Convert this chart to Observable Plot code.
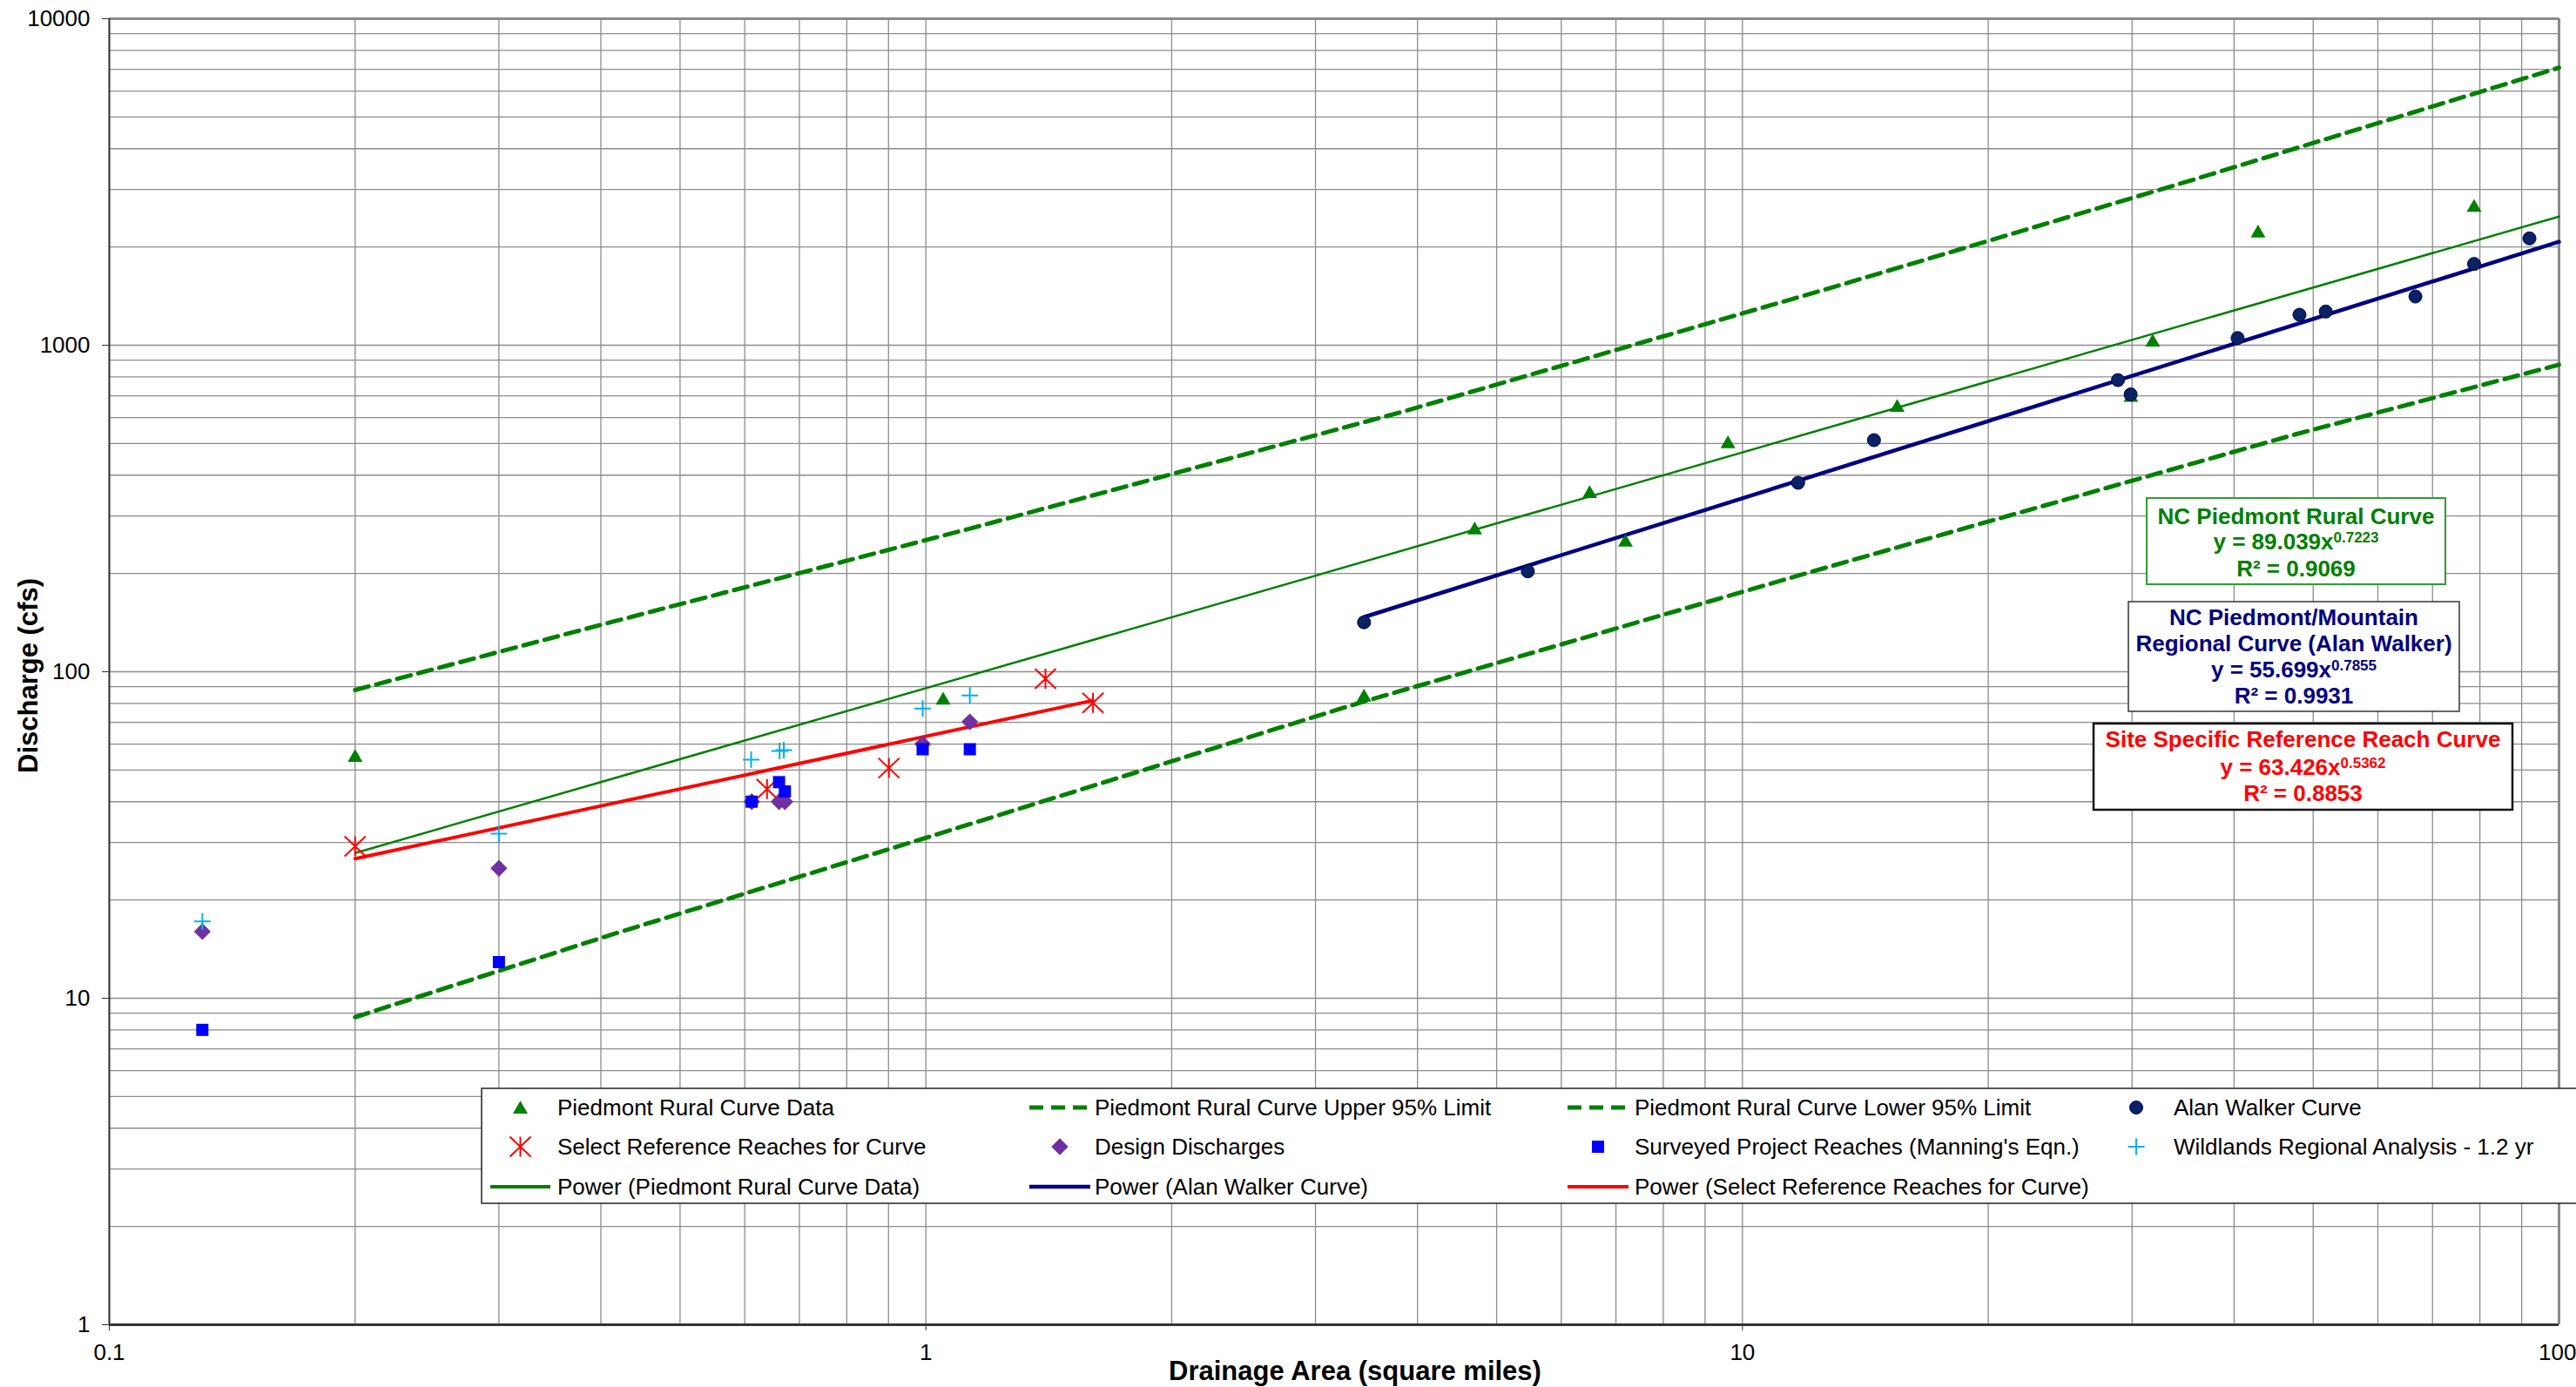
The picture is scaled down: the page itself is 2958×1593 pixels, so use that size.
<!DOCTYPE html>
<html>
<head>
<meta charset="utf-8">
<script src="https://cdn.jsdelivr.net/npm/d3@7"></script>
<script src="https://cdn.jsdelivr.net/npm/@observablehq/plot@0.6"></script>
<style>
  html, body { margin: 0; padding: 0; background: #fff; }
  #chart { width: 2958px; height: 1593px; overflow: hidden; }
  #chart svg { display: block; }
</style>
</head>
<body>
<div id="chart"></div>
<script>
// ---------------- DATA ----------------
// Piedmont Rural Curve Data (green triangles)
const ruralX = [0.2, 1.05, 3.44, 4.70, 6.50, 7.19, 9.60, 15.47, 29.9, 31.8, 42.8, 78.7];
const ruralY = [55.3, 82.8, 84.6, 275, 355, 252, 505, 652, 700, 1033, 2230, 2675];

// Piedmont Rural Curve Upper / Lower 95% Limit (dashed green)
const upperX = [0.2, 0.415, 1.13, 3.83, 12.75, 35, 100];
const upperY = [87.9, 142.6, 274, 625, 1492, 3168, 7079];
const lowerX = [0.2, 0.41, 1.0, 3.38, 12.75, 47.5, 100];
const lowerY = [8.75, 15.6, 31.0, 80.0, 209.5, 533, 872];

// Alan Walker Curve (navy dots)
const walkerX = [3.44, 5.46, 11.7, 14.49, 28.83, 29.88, 40.4, 48.1, 51.8, 66.7, 78.7, 92.0];
const walkerY = [141.7, 203, 379, 512, 782, 707, 1052, 1240, 1268, 1410, 1774, 2124];

// Select Reference Reaches for Curve (red stars)
const refX = [0.2, 0.639, 0.901, 1.401, 1.602];
const refY = [29.2, 43.7, 50.7, 95.2, 80.3];

// Design Discharges (purple diamonds)
const designX = [0.13, 0.3, 0.612, 0.661, 0.672, 0.991, 1.132];
const designY = [16.0, 25.0, 40, 40, 40, 60.1, 70.2];

// Surveyed Project Reaches (Manning's Eqn.) (blue squares)
const surveyX = [0.13, 0.3, 0.612, 0.661, 0.672, 0.991, 1.132];
const surveyY = [8.0, 12.9, 40, 45.9, 43.0, 57.9, 57.9];

// Wildlands Regional Analysis - 1.2 yr (cyan plus)
const wildX = [0.13, 0.3, 0.611, 0.662, 0.670, 0.991, 1.132];
const wildY = [17.2, 31.9, 53.8, 57.2, 57.5, 77.1, 84.6];

// Power trend lines (end points)
const powRuralX = [0.2, 100];
const powRuralY = [27.84, 2478];
const powWalkerX = [3.44, 100];
const powWalkerY = [147.0, 2074];
const powRefX = [0.2, 1.6];
const powRefY = [26.76, 81.6];

// Axes
const xTicks = [0.1, 1, 10, 100];
const yTicks = [1, 10, 100, 1000, 10000];
const xGrid = [0.1,0.2,0.3,0.4,0.5,0.6,0.7,0.8,0.9,1,2,3,4,5,6,7,8,9,10,20,30,40,50,60,70,80,90,100];
const yGrid = [1,2,3,4,5,6,7,8,9,10,20,30,40,50,60,70,80,90,100,200,300,400,500,600,700,800,900,
               1000,2000,3000,4000,5000,6000,7000,8000,9000,10000];

const xTitle = "Drainage Area (square miles)";
const yTitle = "Discharge (cfs)";

// Legend labels
const legendLabels = [
  "Piedmont Rural Curve Data", "Piedmont Rural Curve Upper 95% Limit", "Piedmont Rural Curve Lower 95% Limit", "Alan Walker Curve",
  "Select Reference Reaches for Curve", "Design Discharges", "Surveyed Project Reaches (Manning's Eqn.)", "Wildlands Regional Analysis - 1.2 yr",
  "Power (Piedmont Rural Curve Data)", "Power (Alan Walker Curve)", "Power (Select Reference Reaches for Curve)"
];

// Equation boxes
const ruralBox = ["NC Piedmont Rural Curve", ["89.039", "0.7223"], "R² = 0.9069"];
const walkerBox = ["NC Piedmont/Mountain", "Regional Curve (Alan Walker)", ["55.699", "0.7855"], "R² = 0.9931"];
const refBox = ["Site Specific Reference Reach Curve", ["63.426", "0.5362"], "R² = 0.8853"];

// ---------------- STYLE ----------------
const FONT = "'Liberation Sans', Arial, Helvetica, sans-serif";
const GREEN = "#008000", NAVY = "#000080", RED = "#FF0000", PURPLE = "#7030A0",
      BLUE = "#0000FF", CYAN = "#00B0F0", DOTC = "#0a2263", GRID = "#8c8c8c";

const toRows = (xs, ys) => xs.map((x, i) => ({x, y: ys[i]}));
const rural = toRows(ruralX, ruralY), upper = toRows(upperX, upperY), lower = toRows(lowerX, lowerY),
      walker = toRows(walkerX, walkerY), refr = toRows(refX, refY), design = toRows(designX, designY),
      survey = toRows(surveyX, surveyY), wild = toRows(wildX, wildY),
      powRural = toRows(powRuralX, powRuralY), powWalker = toRows(powWalkerX, powWalkerY),
      powRef = toRows(powRefX, powRefY);

// custom symbols
const starSym = { draw(ctx, size) { const r = Math.sqrt(size / Math.PI);
  ctx.moveTo(-r * 1.05, -r); ctx.lineTo(r * 1.05, r);
  ctx.moveTo(-r * 1.05, r); ctx.lineTo(r * 1.05, -r);
  ctx.moveTo(0, -r); ctx.lineTo(0, r); } };
const plusSym = { draw(ctx, size) { const r = Math.sqrt(size / Math.PI);
  ctx.moveTo(-r, 0); ctx.lineTo(r, 0); ctx.moveTo(0, -r); ctx.lineTo(0, r); } };

const W = 2958, H = 1593;

const svg = Plot.plot({
  width: W, height: H,
  marginLeft: 125, marginRight: 20, marginTop: 21, marginBottom: 72,
  style: {fontFamily: FONT, fontSize: "26px", color: "#000", background: "#fff"},
  x: {type: "log", domain: [0.1, 100], label: null},
  y: {type: "log", domain: [1, 10000], label: null},
  marks: [
    Plot.ruleX(xGrid, {stroke: GRID, strokeWidth: 1.3}),
    Plot.ruleY(yGrid, {stroke: GRID, strokeWidth: 1.3}),
    Plot.ruleY([10000], {stroke: "#8a8a8a", strokeWidth: 3}),
    Plot.ruleX([100], {stroke: "#8a8a8a", strokeWidth: 3}),
    Plot.ruleX([0.1], {stroke: "#333", strokeWidth: 2}),
    Plot.ruleY([1], {stroke: "#333", strokeWidth: 3}),
    Plot.axisX({ticks: xTicks.slice(0, 3), tickSize: 7, tickPadding: 15, tickFormat: d => String(d), fontSize: 26, label: null, stroke: "#333"}),
    Plot.axisX({ticks: xTicks.slice(3), tickSize: 7, tickPadding: 15, tickFormat: d => String(d), fontSize: 26, label: null, stroke: "#333", textAnchor: "end", dx: 20}),
    Plot.axisY({ticks: yTicks, tickSize: 8, tickPadding: 14, tickFormat: d => String(d), fontSize: 26, label: null, stroke: "#333"}),
    Plot.line(upper, {x: "x", y: "y", stroke: GREEN, strokeWidth: 5, strokeDasharray: "16,9"}),
    Plot.line(lower, {x: "x", y: "y", stroke: GREEN, strokeWidth: 5, strokeDasharray: "16,9"}),
    Plot.line(powRural, {x: "x", y: "y", stroke: GREEN, strokeWidth: 2.5}),
    Plot.line(powWalker, {x: "x", y: "y", stroke: NAVY, strokeWidth: 4.5}),
    Plot.line(powRef, {x: "x", y: "y", stroke: RED, strokeWidth: 4}),
    Plot.dot(rural, {x: "x", y: "y", symbol: "triangle", r: 6.3, fill: GREEN, dy: 2}),
    Plot.dot(walker, {x: "x", y: "y", r: 7.5, fill: DOTC, stroke: "#000050", strokeWidth: 1}),
    Plot.dot(refr, {x: "x", y: "y", symbol: starSym, r: 11.5, fill: "none", stroke: RED, strokeWidth: 2}),
    Plot.dot(design, {x: "x", y: "y", symbol: "diamond2", r: 8.7, fill: PURPLE}),
    Plot.dot(survey, {x: "x", y: "y", symbol: "square", r: 7.9, fill: BLUE}),
    Plot.dot(wild, {x: "x", y: "y", symbol: plusSym, r: 9.5, fill: "none", stroke: CYAN, strokeWidth: 2})
  ]
});

const S = d3.select(svg);
const ov = S.append("g").attr("font-family", FONT).attr("fill", "#000");

// Axis titles
ov.append("text").attr("x", 1556).attr("y", 1585).attr("text-anchor", "middle")
  .attr("font-size", 31).attr("font-weight", "bold").text(xTitle);
ov.append("text").attr("transform", "translate(43,776) rotate(-90)").attr("text-anchor", "middle")
  .attr("font-size", 31).attr("font-weight", "bold").text(yTitle);

// Equation boxes
function eqBox(lines, color, box, baselines, cx, border, bw) {
  const g = ov.append("g");
  g.append("rect").attr("x", box[0]).attr("y", box[1]).attr("width", box[2] - box[0]).attr("height", box[3] - box[1])
    .attr("fill", "#fff").attr("stroke", border).attr("stroke-width", bw);
  lines.forEach((ln, i) => {
    const t = g.append("text").attr("x", cx).attr("y", baselines[i]).attr("text-anchor", "middle")
      .attr("font-size", 26).attr("font-weight", "bold").attr("fill", color);
    if (Array.isArray(ln)) {
      t.append("tspan").text(`y = ${ln[0]}x`);
      t.append("tspan").attr("dy", -8).attr("font-size", 17).text(ln[1]);
    } else t.text(ln);
  });
}
eqBox(ruralBox, GREEN, [2465, 572, 2808, 671], [602, 631, 662], 2636.5, "#2e9e2e", 2);
eqBox(walkerBox, NAVY, [2444, 691, 2824, 817], [718, 748, 778, 808], 2634, "#333", 1.5);
eqBox(refBox, RED, [2404, 831, 2885, 930], [858, 890, 920], 2644.5, "#111", 2.5);

// Legend
const lg = ov.append("g").attr("font-size", 26).attr("text-anchor", "start");
lg.append("rect").attr("x", 553).attr("y", 1250).attr("width", 2500).attr("height", 132)
  .attr("fill", "#fff").attr("stroke", "#222").attr("stroke-width", 1.5);
const colSample = [[563, 632], [1182, 1252], [1800, 1870], [2418, 2488]];
const colText = [640, 1257, 1877, 2496];
const rowY = [1272, 1317, 1363];
const kinds = [
  {t: "sym", sym: d3.symbolTriangle, r: 6.3, fill: GREEN, dy: 2},
  {t: "line", stroke: GREEN, w: 5, dash: "16,9"},
  {t: "line", stroke: GREEN, w: 5, dash: "16,9"},
  {t: "sym", sym: d3.symbolCircle, r: 7.5, fill: DOTC, stroke: "#000050", sw: 1},
  {t: "sym", sym: starSym, r: 11.5, fill: "none", stroke: RED, sw: 2},
  {t: "sym", sym: d3.symbolDiamond2, r: 8.7, fill: PURPLE},
  {t: "sym", sym: d3.symbolSquare, r: 7.9, fill: BLUE},
  {t: "sym", sym: plusSym, r: 9.5, fill: "none", stroke: CYAN, sw: 2},
  {t: "line", stroke: GREEN, w: 4},
  {t: "line", stroke: NAVY, w: 4.5},
  {t: "line", stroke: RED, w: 4}
];
legendLabels.forEach((label, i) => {
  const row = Math.floor(i / 4), col = i % 4, k = kinds[i];
  const [a, b] = colSample[col], cy = rowY[row];
  if (k.t === "line") {
    lg.append("line").attr("x1", a).attr("x2", b).attr("y1", cy).attr("y2", cy)
      .attr("stroke", k.stroke).attr("stroke-width", k.w).attr("stroke-dasharray", k.dash || null);
  } else {
    lg.append("path").attr("transform", `translate(${(a + b) / 2},${cy + (k.dy || 0)})`)
      .attr("d", d3.symbol().type(k.sym).size(Math.PI * k.r * k.r)())
      .attr("fill", k.fill).attr("stroke", k.stroke || "none").attr("stroke-width", k.sw || 0);
  }
  lg.append("text").attr("x", colText[col]).attr("y", cy + 9).attr("text-anchor", "start").text(label);
});

document.getElementById("chart").appendChild(svg);
</script>
</body>
</html>
